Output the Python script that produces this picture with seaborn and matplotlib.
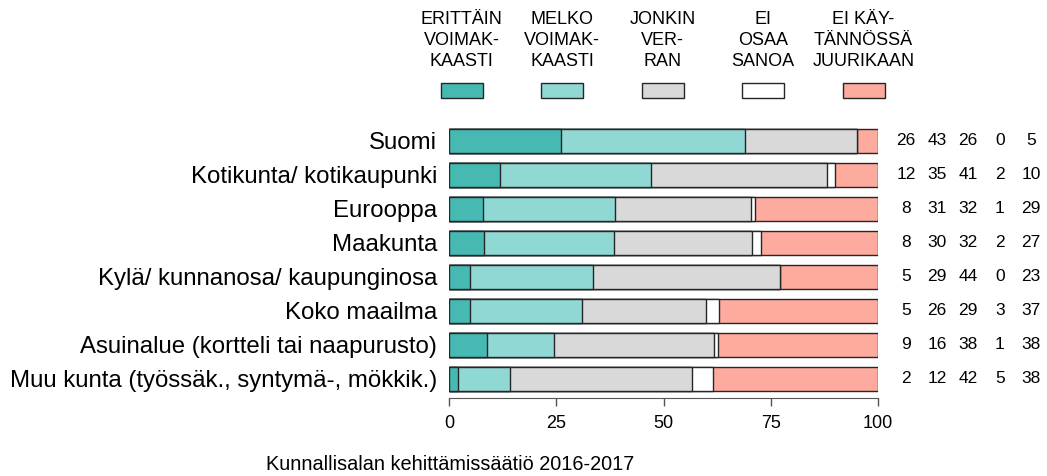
import numpy as np
import pandas as pd
import seaborn as sns
import matplotlib.pyplot as plt
from matplotlib.patches import Rectangle
from matplotlib.transforms import blended_transform_factory

categories = [
    "Suomi",
    "Kotikunta/ kotikaupunki",
    "Eurooppa",
    "Maakunta",
    "Kylä/ kunnanosa/ kaupunginosa",
    "Koko maailma",
    "Asuinalue (kortteli tai naapurusto)",
    "Muu kunta (työssäk., syntymä-, mökkik.)",
]
series = ["ERITTÄIN\nVOIMAK-\nKAASTI", "MELKO\nVOIMAK-\nKAASTI", "JONKIN\nVER-\nRAN",
          "EI\nOSAA\nSANOA", "EI KÄY-\nTÄNNÖSSÄ\nJUURIKAAN"]
erittain = [26, 12, 8, 8, 5, 5, 9, 2]
melko = [43, 35, 31, 30, 29, 26, 16, 12]
jonkin = [26, 41, 32, 32, 44, 29, 38, 42]
ei_osaa = [0, 2, 1, 2, 0, 3, 1, 5]
ei_kay = [5, 10, 29, 27, 23, 37, 38, 38]
colors = ["#46B9B3", "#8FD8D3", "#D9D9D9", "#FFFFFF", "#FCAB9E"]
xticks = [0, 25, 50, 75, 100]
footer = "Kunnallisalan kehittämissäätiö 2016-2017"

sns.set_style("white")
plt.rcParams['font.family'] = ['Liberation Sans', 'DejaVu Sans']
plt.rcParams['text.color'] = 'black'

vals = np.array([erittain, melko, jonkin, ei_osaa, ei_kay], dtype=float).T
pct = vals / vals.sum(axis=1, keepdims=True) * 100
cum = pct.cumsum(axis=1)

W, H = 1047, 476
fig = plt.figure(figsize=(W / 100, H / 100), dpi=100)
ax = fig.add_axes([449 / W, 1 - 398 / H, 429 / W, (398 - 124) / H])

# stacked look: draw cumulative bars from the longest down
for j in range(len(series) - 1, -1, -1):
    df = pd.DataFrame({"cat": categories, "val": cum[:, j]})
    sns.barplot(data=df, x="val", y="cat", orient="h", color=colors[j],
                saturation=1, width=0.7, edgecolor="#262626", linewidth=1,
                ax=ax)

ax.set_xlim(0, 100)
ax.set_ylim(7.56, -0.5)
ax.set_xlabel("")
ax.set_ylabel("")
ax.set_xticks(xticks)
ax.tick_params(axis="x", bottom=True, length=6, width=1, color="#555555",
               labelsize=13, labelcolor="black", pad=6)
ax.tick_params(axis="y", left=False, labelsize=17.3, labelcolor="black", pad=5)
for s in ["top", "right", "left"]:
    ax.spines[s].set_visible(False)
ax.spines["bottom"].set_color("#555555")
ax.spines["bottom"].set_bounds(0, 100)

# value columns on the right
col_x = [906, 937, 968, 1000, 1031]
tr = blended_transform_factory(fig.transFigure, ax.transData)
for i in range(len(categories)):
    for j in range(len(series)):
        ax.text(col_x[j] / W, i, f"{int(vals[i, j])}", transform=tr,
                ha="center", va="center", fontsize=12.5)

# legend header
for j, lab in enumerate(series):
    cx = (461.5 + 100.5 * j) / W
    fig.text(cx, 1 - 70 / H, lab, ha="center", va="bottom", fontsize=13,
             linespacing=1.3)
    fig.patches.append(Rectangle((cx - 21 / W, 1 - 98 / H), 42 / W, 15 / H,
                                 transform=fig.transFigure, facecolor=colors[j],
                                 edgecolor="#262626", linewidth=1))

fig.text(450 / W, 1 - 465 / H, footer, ha="center", va="center", fontsize=14.3)

fig.savefig("out.png", dpi=100)
